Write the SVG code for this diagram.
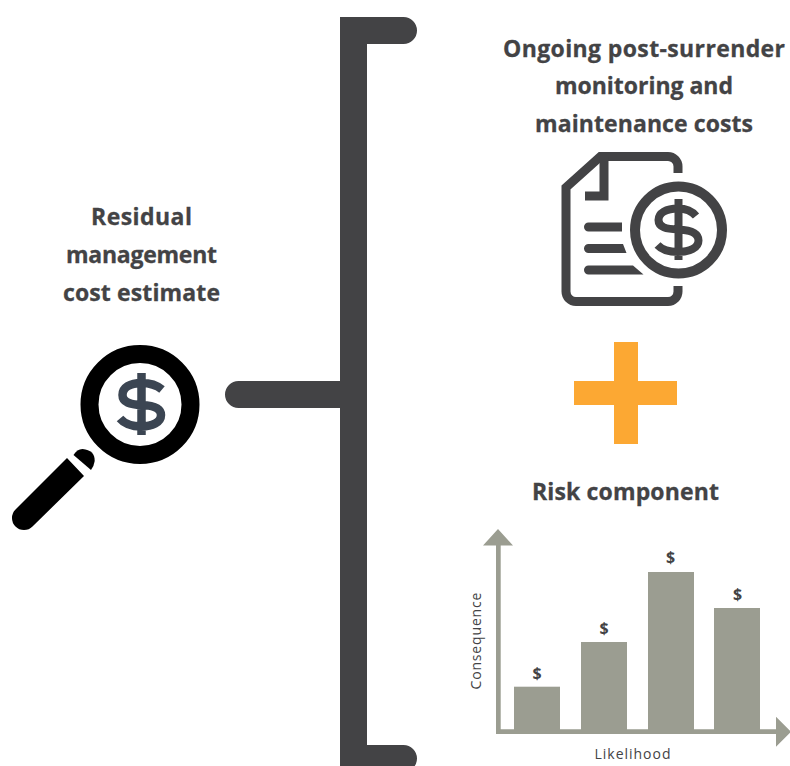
<svg xmlns="http://www.w3.org/2000/svg" width="790" height="766" viewBox="0 0 790 766">
<style>
.h{font-family:"Open Sans","Noto Sans","Liberation Sans",sans-serif;font-weight:700;font-size:23px;fill:#434345;stroke:#434345;stroke-width:.3;text-anchor:middle}
.d{font-family:"Open Sans","Liberation Sans",sans-serif;font-weight:700;font-size:16px;fill:#434345;text-anchor:middle}
.a{font-family:"Open Sans","Liberation Sans",sans-serif;font-size:14px;fill:#434345;text-anchor:middle}
.bar{fill:#9b9d91}
.ic{fill:none;stroke:#434345;stroke-width:9}
</style>
<rect width="790" height="766" fill="#fff"/>
<g id="connectors">
<path d="M340 17H403.500A13.500 13.500 0 0 1 403.500 44H367V745H403.500A13.500 13.500 0 0 1 403.500 772H340V408H238.500A13.500 13.500 0 0 1 238.500 381H340Z" fill="#434345"/>
</g>
<g id="residual">
<text class="h" x="141.500" y="225" textLength="101">Residual</text>
<text class="h" x="141.500" y="263" textLength="151">management</text>
<text class="h" x="141.500" y="300.500" textLength="157">cost estimate</text>
<circle cx="140" cy="404.500" r="50.500" fill="#fff" stroke="#000" stroke-width="18"/>
<path d="M162 389.500C156 384.500 149 383 141.500 383C130 383 122.500 387.500 122.500 395C122.500 402.500 130 404.500 141.500 405C153 405.500 161 408 161 415C161 422.500 152 426.500 141.500 426.500C133 426.500 125 424.500 120 418.500M141.500 373V435" fill="none" stroke="#3b4552" stroke-width="8.500"/>
<path d="M67 458L84 476L32.500 526.500A12 12 0 0 1 15.500 509.500Z" fill="#000"/>
<path d="M73.500 455Q77 449 82.500 449Q95 450 94.700 461Q94 466 91 470Z" fill="#000"/>
</g>
<g id="monitoring">
<text class="h" x="644" y="56.500" textLength="282">Ongoing post-surrender</text>
<text class="h" x="644" y="93.500" textLength="178">monitoring and</text>
<text class="h" x="644" y="131.500" textLength="218">maintenance costs</text>
<path class="ic" d="M678 173V166.500A10 10 0 0 0 668 156.500H600.500L566 187.500V291.500A10 10 0 0 0 576 301.500H668A10 10 0 0 0 678 291.500V286"/>
<path class="ic" d="M604 157V196H585"/>
<path d="M588.500 222.500H622V231.500H588.500A4.500 4.500 0 0 1 588.500 222.500ZM588.500 244H623L626.500 253H588.500A4.500 4.500 0 0 1 588.500 244ZM588.500 265.500H633L643.500 274.500H588.500A4.500 4.500 0 0 1 588.500 265.500Z" fill="#434345"/>
<circle cx="678.500" cy="230" r="43.500" fill="#fff" stroke="#434345" stroke-width="10"/>
<path d="M696 216C691.500 210.500 685.500 208.500 678 208.500C666 208.500 658.500 213 658.500 220C658.500 227.500 666.500 229 678 229.500C689.500 230 698.500 232.500 698.500 240.500C698.500 248 689.500 252 678 252C669.500 252 662.500 250.500 657.500 245M678.500 199V260" fill="none" stroke="#434345" stroke-width="8"/>
</g>
<g id="plus">
<path d="M614 342H638V381H677V405H638V444H614V405H574V381H614Z" fill="#fca833"/>
</g>
<g id="risk">
<text class="h" x="625.500" y="500" textLength="187">Risk component</text>
<path d="M496 734V545.500H483L498 529L513 545.500H500.700V729.300H776V716.700L791 731.700L776 746.700V734Z" fill="#9b9d91"/>
<rect class="bar" x="514" y="686.700" width="46" height="43.500"/>
<rect class="bar" x="581" y="642" width="46" height="88"/>
<rect class="bar" x="648" y="572" width="46" height="158"/>
<rect class="bar" x="714" y="608" width="46" height="122"/>
<text class="d" x="537" y="679">$</text>
<text class="d" x="604" y="634">$</text>
<text class="d" x="670.500" y="563">$</text>
<text class="d" x="737.500" y="600">$</text>
<text class="a" transform="translate(481 641) rotate(-90)" textLength="97">Consequence</text>
<text class="a" x="632.500" y="759" textLength="76">Likelihood</text>
</g>
</svg>
